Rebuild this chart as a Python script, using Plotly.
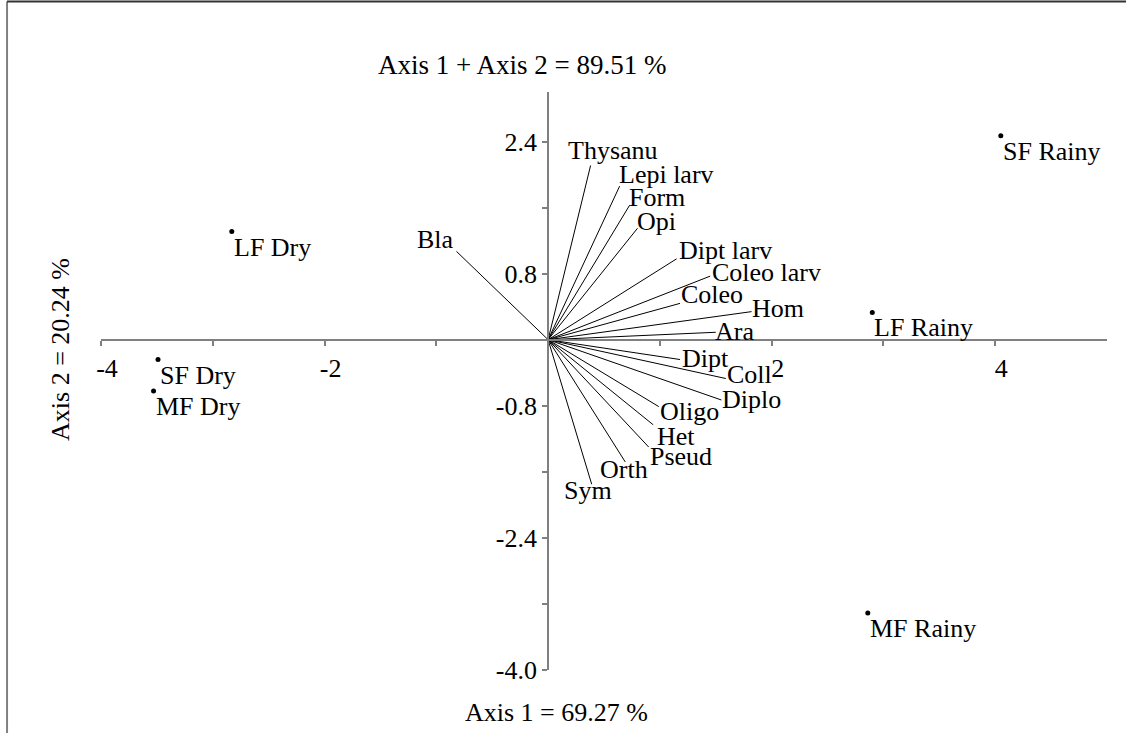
import plotly.graph_objects as go

# ---- data ----
sites = ["SF Rainy", "LF Dry", "SF Dry", "MF Dry", "LF Rainy", "MF Rainy"]
site_x = [4.05, -2.83, -3.49, -3.53, 2.90, 2.86]
site_y = [2.47, 1.31, -0.24, -0.62, 0.33, -3.31]

taxa = ["Bla", "Thysanu", "Lepi larv", "Form", "Opi", "Dipt larv", "Coleo larv",
        "Coleo", "Hom", "Ara", "Dipt", "Coll", "Diplo", "Oligo", "Het", "Pseud",
        "Orth", "Sym"]
taxa_x = [-0.82, 0.38, 0.64, 0.73, 0.80, 1.15, 1.45, 1.18, 1.82, 1.50, 1.18,
          1.59, 1.55, 0.99, 0.94, 0.90, 0.69, 0.39]
taxa_y = [1.07, 2.11, 1.86, 1.63, 1.35, 0.98, 0.77, 0.44, 0.34, 0.09, -0.24,
          -0.47, -0.73, -0.81, -1.03, -1.30, -1.48, -1.75]

x_tickvals = [-4, -3, -2, -1, 1, 2, 3, 4]
x_ticktext = ["-4", "", "-2", "", "", "2", "", "4"]
y_tickvals = [2.4, 1.6, 0.8, -0.8, -1.6, -2.4, -3.2, -4.0]
y_ticktext = ["2.4", "", "0.8", "-0.8", "", "-2.4", "", "-4.0"]

title_top = "Axis 1 + Axis 2 = 89.51 %"
title_x = "Axis 1 = 69.27 %"
title_y = "Axis 2 = 20.24 %"

# ---- style ----
FONT = "Liberation Serif"
FS = 26
AXC = "#808080"

# (xanchor, yanchor, xshift, yshift) for each vector label
label_anchor = {
    "Bla": ("right", "bottom", 0, -5),
    "Thysanu": ("center", "bottom", 22, -2),
    "Lepi larv": ("left", "bottom", -3, -5),
    "Form": ("left", "bottom", -3, -9),
    "Opi": ("left", "bottom", -3, -10),
    "Dipt larv": ("left", "bottom", 0, -8),
    "Coleo larv": ("left", "bottom", 0, -13),
    "Coleo": ("left", "bottom", -1, -8),
    "Hom": ("left", "middle", -2, 3),
    "Ara": ("left", "middle", -3, 1),
    "Dipt": ("left", "middle", 0, 1),
    "Coll": ("left", "middle", -1, 4),
    "Diplo": ("left", "middle", -1, 0),
    "Oligo": ("left", "top", -1, 12),
    "Het": ("left", "top", 2, 5),
    "Pseud": ("left", "top", -1, 7),
    "Orth": ("center", "top", -1, 9),
    "Sym": ("center", "top", -4, 10),
}

fig = go.Figure()

# vectors
vx, vy = [], []
for x, y in zip(taxa_x, taxa_y):
    vx += [0, x, None]
    vy += [0, y, None]
fig.add_trace(go.Scatter(x=vx, y=vy, mode="lines",
                         line=dict(color="black", width=1),
                         hoverinfo="skip", showlegend=False))

# site points
fig.add_trace(go.Scatter(x=site_x, y=site_y, mode="markers",
                         marker=dict(color="black", size=5),
                         showlegend=False))

annotations = []
for name, x, y in zip(taxa, taxa_x, taxa_y):
    xa, ya, xs, ys = label_anchor[name]
    annotations.append(dict(x=x, y=y, text=name, showarrow=False,
                            xanchor=xa, yanchor=ya, xshift=xs, yshift=ys,
                            font=dict(family=FONT, size=FS, color="black")))
for name, x, y in zip(sites, site_x, site_y):
    annotations.append(dict(x=x, y=y, text=name, showarrow=False,
                            xanchor="left", yanchor="top", xshift=0, yshift=1,
                            font=dict(family=FONT, size=FS, color="black")))

annotations += [
    dict(x=0.418, y=1.0467, xref="paper", yref="paper", text=title_top,
         showarrow=False, xanchor="center", yanchor="middle",
         font=dict(family=FONT, size=27, color="black")),
    dict(x=0.453, y=-0.0727, xref="paper", yref="paper", text=title_x,
         showarrow=False, xanchor="center", yanchor="middle",
         font=dict(family=FONT, size=FS, color="black")),
    dict(x=-0.0398, y=0.5554, xref="paper", yref="paper", text=title_y,
         showarrow=False, xanchor="center", yanchor="middle", textangle=-90,
         font=dict(family=FONT, size=FS, color="black")),
]

fig.update_layout(
    width=1126, height=733,
    margin=dict(l=101, r=19, t=92, b=63),
    paper_bgcolor="white", plot_bgcolor="white",
    showlegend=False,
    annotations=annotations,
    xaxis=dict(range=[-4, 5], showgrid=False, zeroline=False,
               showline=True, linecolor=AXC, linewidth=2,
               ticks="outside", ticklen=5, tickwidth=1.5, tickcolor=AXC,
               tickvals=x_tickvals, ticktext=x_ticktext,
               ticklabelshift=6,
               tickfont=dict(family=FONT, size=FS, color="black"),
               anchor="free", position=4 / 7),
    yaxis=dict(range=[-4, 3], showgrid=False, zeroline=False,
               showline=True, linecolor=AXC, linewidth=2,
               ticks="outside", ticklen=5, tickwidth=1.5, tickcolor=AXC,
               tickvals=y_tickvals, ticktext=y_ticktext,
               tickfont=dict(family=FONT, size=FS, color="black"),
               anchor="free", position=4 / 9),
    shapes=[
        dict(type="line", xref="paper", yref="paper",
             x0=-0.0934, x1=-0.0934, y0=1.1566, y1=-0.11,
             line=dict(color=AXC, width=2)),
        dict(type="line", xref="paper", yref="paper",
             x0=-0.0934, x1=1.02, y0=1.1566, y1=1.1566,
             line=dict(color="#333333", width=2)),
    ],
)

fig.write_html("out.html",
               config={"displayModeBar": False},
               post_script="document.body.style.margin='0';document.body.style.overflow='hidden';")
